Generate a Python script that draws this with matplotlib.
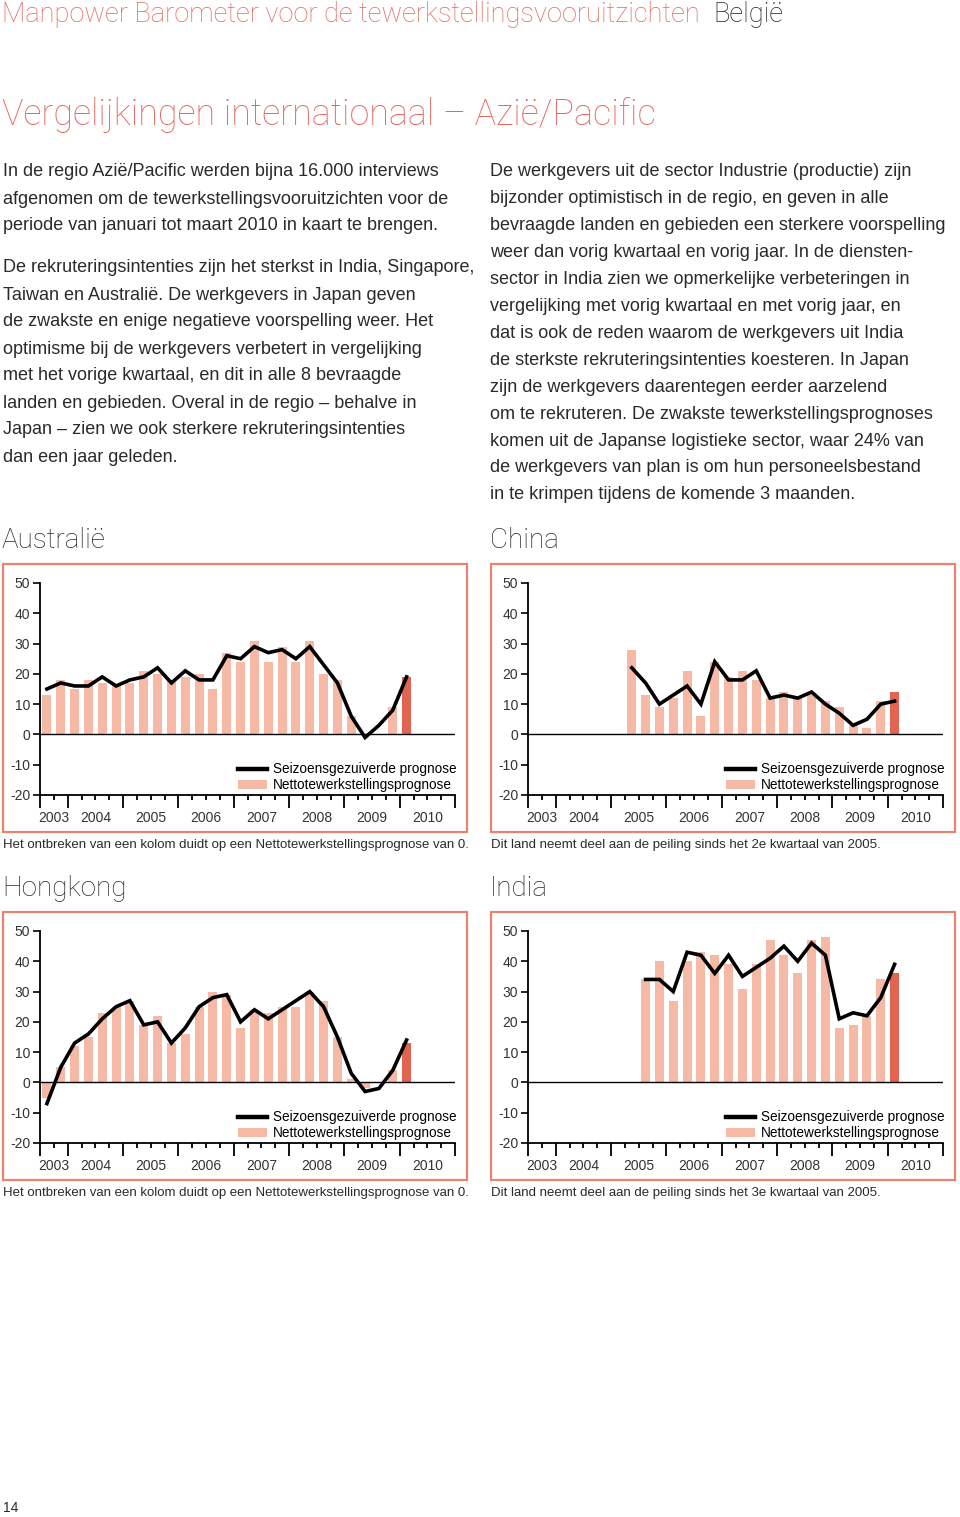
import numpy as np
import matplotlib
matplotlib.use('Agg')
import matplotlib.pyplot as plt
from matplotlib.lines import Line2D
from matplotlib.patches import Patch, Rectangle

plt.rcParams.update({
    'font.family': ['Liberation Sans', 'DejaVu Sans'],
    'axes.unicode_minus': False,
})

W, H = 960, 1517

# ============================================================
# Data: quarters 2003 Q3 .. 2010 Q1 (27 quarters)
# ============================================================
NAN = np.nan
YEARS = ['2003', '2004', '2005', '2006', '2007', '2008', '2009', '2010']

AUS_NET = [13, 18, 15, 18, 17, 16, 17, 21, 20, 18, 19, 20, 15, 27, 24, 31,
           24, 29, 24, 31, 20, 18, 6, 0, 0, 9, 19]
AUS_SA = [15, 17, 16, 16, 19, 16, 18, 19, 22, 17, 21, 18, 18, 26, 25, 29,
          27, 28, 25, 29, 23, 17, 6, -1, 3, 8, 19]

CHN_NET = [NAN] * 7 + [28, 13, 9, 12, 21, 6, 24, 19, 21, 18, 12, 14, 12, 13,
                       11, 9, 3, 2, 11, 14]
CHN_SA = [NAN] * 7 + [22, 17, 10, 13, 16, 10, 24, 18, 18, 21, 12, 13, 12, 14,
                      10, 7, 3, 5, 10, 11]

HKG_NET = [-5, 5, 12, 15, 23, 25, 27, 19, 22, 13, 16, 25, 30, 29, 18, 24,
           23, 25, 25, 30, 27, 15, 1, -2, 0, 4, 13]
HKG_SA = [-7, 5, 13, 16, 21, 25, 27, 19, 20, 13, 18, 25, 28, 29, 20, 24,
          21, 24, 27, 30, 25, 15, 3, -3, -2, 4, 14]

IND_NET = [NAN] * 8 + [34, 40, 27, 40, 43, 42, 39, 31, 39, 47, 42, 36, 47, 48,
                       18, 19, 22, 34, 36]
IND_SA = [NAN] * 8 + [34, 34, 30, 43, 42, 36, 42, 35, 38, 41, 45, 40, 46, 42,
                      21, 23, 22, 28, 39]

LEFT_TEXT = [
    ('In de regio Azië/Pacific werden bijna 16.000 interviews', 172),
    ('afgenomen om de tewerkstellingsvooruitzichten voor de', 199),
    ('periode van januari tot maart 2010 in kaart te brengen.', 226),
    ('De rekruteringsintenties zijn het sterkst in India, Singapore,', 268),
    ('Taiwan en Australië. De werkgevers in Japan geven', 295),
    ('de zwakste en enige negatieve voorspelling weer. Het', 322),
    ('optimisme bij de werkgevers verbetert in vergelijking', 349),
    ('met het vorige kwartaal, en dit in alle 8 bevraagde', 376),
    ('landen en gebieden. Overal in de regio – behalve in', 403),
    ('Japan – zien we ook sterkere rekruteringsintenties', 430),
    ('dan een jaar geleden.', 457),
]
RIGHT_TEXT = [
    'De werkgevers uit de sector Industrie (productie) zijn',
    'bijzonder optimistisch in de regio, en geven in alle',
    'bevraagde landen en gebieden een sterkere voorspelling',
    'weer dan vorig kwartaal en vorig jaar. In de diensten-',
    'sector in India zien we opmerkelijke verbeteringen in',
    'vergelijking met vorig kwartaal en met vorig jaar, en',
    'dat is ook de reden waarom de werkgevers uit India',
    'de sterkste rekruteringsintenties koesteren. In Japan',
    'zijn de werkgevers daarentegen eerder aarzelend',
    'om te rekruteren. De zwakste tewerkstellingsprognoses',
    'komen uit de Japanse logistieke sector, waar 24% van',
    'de werkgevers van plan is om hun personeelsbestand',
    'in te krimpen tijdens de komende 3 maanden.',
]

SALMON = '#F5B9A6'
RED = '#E0644F'
BORDER = '#E8836F'
HEAD = '#E2685F'
TXT = '#2A2A2A'
HEAD_FONT = ['Roboto', 'DejaVu Sans']


def fx(x):
    return x / W


def fy(y):
    return 1 - y / H


def draw_panel(fig, ox, box_top, name, net, sa, caption):
    # frame
    fig.patches.append(Rectangle((fx(ox + 3), fy(box_top + 268)), 464 / W, 268 / H,
                                 transform=fig.transFigure, fill=False,
                                 edgecolor=BORDER, lw=1.6))
    fig.text(fx(ox + 2), fy(box_top - 24), name, fontsize=20, color=TXT,
             va='center', ha='left', family=HEAD_FONT, fontweight='light')
    fig.text(fx(ox + 3), fy(box_top + 281), caption, fontsize=9.5, color=TXT,
             va='center', ha='left')

    ax = fig.add_axes([fx(ox + 40), fy(box_top + 231), 415 / W, 212 / H])
    ax.set_facecolor('none')
    n = len(net)
    x = np.arange(n) + 0.5
    colors = [SALMON] * (n - 1) + [RED]
    ax.bar(x, net, width=0.66, color=colors, zorder=1)
    ax.axhline(0, color='black', lw=1.0, zorder=2)
    ax.plot(x, sa, color='black', lw=2.6, zorder=3, solid_joinstyle='miter')

    ax.set_xlim(0, 30)
    ax.set_ylim(-20, 50)
    ax.set_yticks(range(-20, 51, 10))
    ax.set_yticklabels([str(v) for v in range(-20, 51, 10)])
    ax.set_xticks([0, 2, 6, 10, 14, 18, 22, 26, 30])
    ax.set_xticklabels([])
    ax.set_xticks(range(31), minor=True)
    ax.tick_params(axis='x', which='major', length=9.5, width=1.3, direction='out')
    ax.tick_params(axis='x', which='minor', length=3.8, width=1.3, direction='out')
    ax.tick_params(axis='y', length=5, width=1.2, pad=2, labelsize=10,
                   labelcolor='#333333')
    for s in ['top', 'right']:
        ax.spines[s].set_visible(False)
    for s in ['left', 'bottom']:
        ax.spines[s].set_linewidth(1.3)

    centers = [1, 4, 8, 12, 16, 20, 24, 28]
    for c, yr in zip(centers, YEARS):
        ax.text(c, -0.11, yr, transform=ax.get_xaxis_transform(), ha='center',
                va='center', fontsize=10, color='#333333')

    handles = [Line2D([0], [0], color='black', lw=3.2),
               Patch(facecolor=SALMON, edgecolor='none')]
    ax.legend(handles, ['Seizoensgezuiverde prognose', 'Nettotewerkstellingsprognose'],
              loc='lower right', bbox_to_anchor=(1.01, 0.0), frameon=False,
              fontsize=9.8, handlelength=2.1, handleheight=0.6, handletextpad=0.45,
              borderaxespad=0.1, borderpad=0.1, labelspacing=0.15)
    return ax


fig = plt.figure(figsize=(W / 100, H / 100), dpi=100)
fig.patch.set_facecolor('white')

# header
fig.text(fx(2), fy(15), 'Manpower Barometer voor de tewerkstellingsvooruitzichten',
         fontsize=19.6, color=HEAD, va='center', ha='left', family=HEAD_FONT,
         fontweight='light')
fig.text(fx(713), fy(15), 'België', fontsize=19.6, color='#222222', va='center',
         ha='left', family=HEAD_FONT, fontweight='light')
fig.text(fx(2), fy(115), 'Vergelijkingen internationaal – Azië/Pacific', fontsize=25.8,
         color=HEAD, va='center', ha='left', family=HEAD_FONT, fontweight='light')

for line, y in LEFT_TEXT:
    fig.text(fx(3), fy(y), line, fontsize=13.0, color=TXT, va='center', ha='left')
for i, line in enumerate(RIGHT_TEXT):
    fig.text(fx(490), fy(172 + i * 26.9), line, fontsize=13.0, color=TXT,
             va='center', ha='left')

cap_missing = 'Het ontbreken van een kolom duidt op een Nettotewerkstellingsprognose van 0.'
draw_panel(fig, 0, 564, 'Australië', AUS_NET, AUS_SA, cap_missing)
draw_panel(fig, 488, 564, 'China', CHN_NET, CHN_SA,
           'Dit land neemt deel aan de peiling sinds het 2e kwartaal van 2005.')
draw_panel(fig, 0, 912, 'Hongkong', HKG_NET, HKG_SA, cap_missing)
draw_panel(fig, 488, 912, 'India', IND_NET, IND_SA,
           'Dit land neemt deel aan de peiling sinds het 3e kwartaal van 2005.')

fig.text(fx(3), fy(1508), '14', fontsize=10, color=TXT, va='center', ha='left')

fig.savefig('out.png', dpi=100, facecolor='white')
